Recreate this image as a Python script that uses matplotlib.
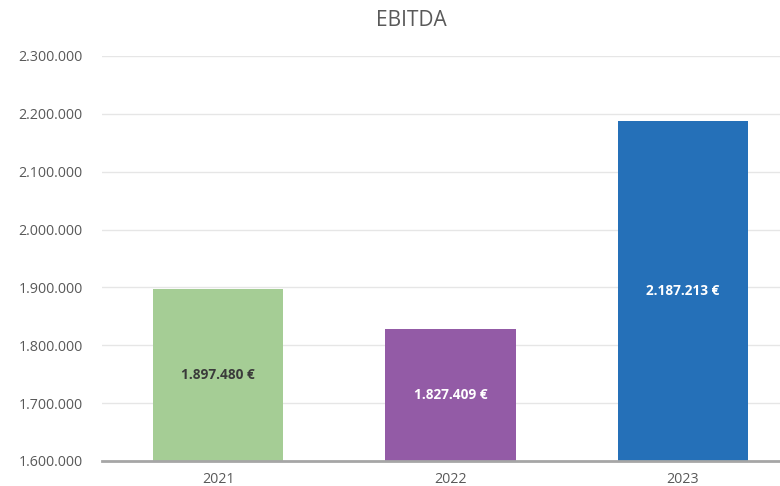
import matplotlib
matplotlib.use("Agg")
import matplotlib.pyplot as plt
from matplotlib.ticker import FuncFormatter

years = ["2021", "2022", "2023"]
ebitda = [1897480, 1827409, 2187213]
colors = ["#a5cd95", "#935ba6", "#2570b8"]
label_colors = ["#3a3a3a", "white", "white"]
yticks = [1600000, 1700000, 1800000, 1900000, 2000000, 2100000, 2200000, 2300000]

plt.rcParams['font.family'] = ['Open Sans', 'DejaVu Sans']

def fmt_thousands(v):
    return f"{int(round(v)):,}".replace(",", ".")

fig = plt.figure(figsize=(7.8, 4.86), dpi=100)
ax = fig.add_axes([102/780, (486-461)/486, 697/780, (461-56)/486])

x = list(range(len(years)))
ax.bar(x, ebitda, width=0.56, color=colors, zorder=3)
ax.set_xlim(-0.5, 2.5)
ax.set_ylim(1600000, 2300000)
ax.set_yticks(yticks)
ax.yaxis.set_major_formatter(FuncFormatter(lambda v, p: fmt_thousands(v)))
ax.set_xticks(x)
ax.set_xticklabels(years)

for xi, v, lc in zip(x, ebitda, label_colors):
    ax.text(xi, (1600000 + v) / 2, fmt_thousands(v) + " €", ha="center", va="center",
            color=lc, fontsize=9.8, fontweight="bold", zorder=4)

ax.grid(axis="y", color="#e6e6e6", linewidth=1, zorder=0)
for s in ["top", "right", "left"]:
    ax.spines[s].set_visible(False)
ax.spines["bottom"].set_color("#a6a6a6")
ax.spines["bottom"].set_linewidth(2)
ax.spines["bottom"].set_zorder(5)
ax.tick_params(axis="both", length=0, colors="#595959", labelsize=10.3)
ax.tick_params(axis="y", pad=14)
ax.tick_params(axis="x", pad=8)

fig.text(411/780, 1 - 20/486, "EBITDA", ha="center", va="center", fontsize=15,
         color="#595959")

fig.savefig("out.png", dpi=100)
